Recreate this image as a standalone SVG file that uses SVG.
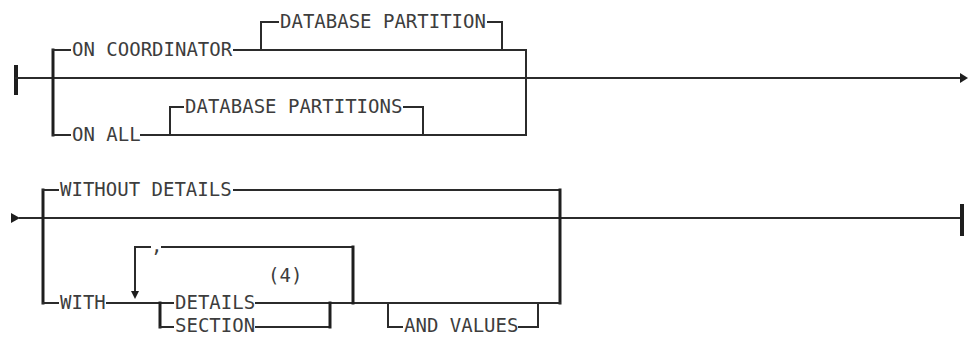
<svg xmlns="http://www.w3.org/2000/svg" width="971" height="337" viewBox="0 0 971 337">
<style>
.t{font-family:"DejaVu Sans Mono","Liberation Mono",monospace;font-size:19px;fill:#3d3d3d}
.l{fill:none;stroke:#2b2b2b;stroke-width:2;stroke-linecap:square}
.k{fill:none;stroke:#1e1e1e;stroke-width:3;stroke-linecap:square}
.b{fill:none;stroke:#1e1e1e;stroke-width:4}
</style>
<rect width="971" height="337" fill="#fff"/>
<g id="connectors">
<!-- top diagram -->
<line class="b" x1="16" y1="65" x2="16" y2="95"/>
<line class="l" x1="16" y1="78" x2="962" y2="78"/>
<path d="M960,73 L968,78 L960,83 z" fill="#1e1e1e"/>
<line class="k" x1="53" y1="50" x2="53" y2="135"/>
<path class="l" d="M53,50 H70"/>
<path class="l" d="M234,50 H526 V135"/>
<path class="l" d="M261,50 V22 H278"/>
<path class="l" d="M488,22 H502 V50"/>
<path class="l" d="M53,135 H70"/>
<path class="l" d="M141,135 H526"/>
<path class="l" d="M170,135 V107 H183"/>
<path class="l" d="M404,107 H423 V135"/>
<!-- bottom diagram -->
<path d="M11,213 L20,218 L11,223 z" fill="#1e1e1e"/>
<line class="l" x1="20" y1="218" x2="960" y2="218"/>
<line class="b" x1="962" y1="204" x2="962" y2="236"/>
<line class="k" x1="43" y1="190" x2="43" y2="303"/>
<path class="l" d="M43,190 H58"/>
<path class="l" d="M234,190 H560"/>
<line class="k" x1="560" y1="190" x2="560" y2="303"/>
<path class="l" d="M43,303 H58"/>
<path class="l" d="M107,303 H173"/>
<path class="l" d="M256,303 H560"/>
<path class="k" d="M160,303 V327"/>
<path class="l" d="M160,327 H173"/>
<path class="l" d="M256,327 H330"/>
<line class="k" x1="330" y1="303" x2="330" y2="327"/>
<path class="l" d="M150,247 H135 V292"/>
<path d="M131,291 L135,299 L139,291 z" fill="#1e1e1e"/>
<path class="l" d="M162,247 H353"/>
<line class="k" x1="353" y1="247" x2="353" y2="303"/>
<path class="l" d="M388,303 V327 H402"/>
<path class="l" d="M519,327 H538 V303"/>
</g>
<g id="n-on-coordinator"><text class="t" x="72" y="56">ON COORDINATOR</text></g>
<g id="n-db-partition"><text class="t" x="280" y="28">DATABASE PARTITION</text></g>
<g id="n-on-all"><text class="t" x="72" y="141">ON ALL</text></g>
<g id="n-db-partitions"><text class="t" x="185" y="113">DATABASE PARTITIONS</text></g>
<g id="n-without-details"><text class="t" x="60" y="196">WITHOUT DETAILS</text></g>
<g id="n-with"><text class="t" x="60" y="309">WITH</text></g>
<g id="n-comma"><text class="t" x="151" y="252">,</text></g>
<g id="n-note"><text class="t" x="268" y="282">(4)</text></g>
<g id="n-details"><text class="t" x="175" y="309">DETAILS</text></g>
<g id="n-section"><text class="t" x="175" y="332">SECTION</text></g>
<g id="n-and-values"><text class="t" x="404" y="332">AND VALUES</text></g>
</svg>
